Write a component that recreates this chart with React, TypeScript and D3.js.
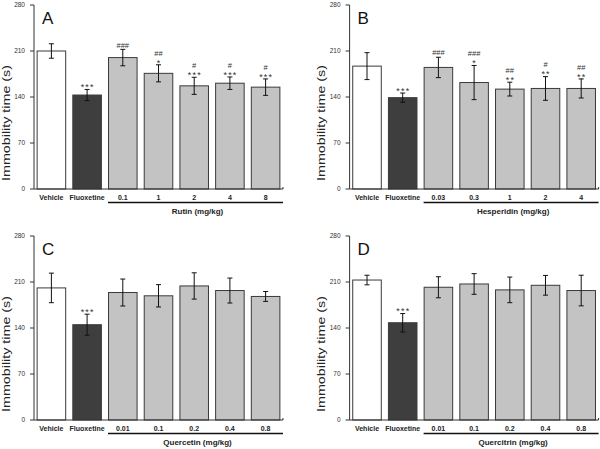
import React from "react";
import * as d3 from "d3";

const panelLetters = ["A", "B", "C", "D"];
const groupLabels = ["Rutin (mg/kg)", "Hesperidin (mg/kg)", "Quercetin (mg/kg)", "Quercitrin (mg/kg)"];

const categoriesA = ["Vehicle", "Fluoxetine", "0.1", "1", "2", "4", "8"];
const meansA = [210, 143, 200, 176, 157, 161, 155];
const semA = [11, 8.5, 12.5, 13, 13, 9.5, 12.5];
const starsA = ["", "***", "", "*", "***", "***", "***"];
const hashA = ["", "", "###", "##", "#", "#", "#"];

const categoriesB = ["Vehicle", "Fluoxetine", "0.03", "0.3", "1", "2", "4"];
const meansB = [187, 139, 185, 162, 152, 153, 153];
const semB = [20.5, 7, 15.5, 26, 10.5, 18, 14.5];
const starsB = ["", "***", "", "*", "**", "**", "**"];
const hashB = ["", "", "###", "###", "##", "#", "##"];

const categoriesC = ["Vehicle", "Fluoxetine", "0.01", "0.1", "0.2", "0.4", "0.8"];
const meansC = [201, 145, 194, 189, 204, 197, 188];
const semC = [22.5, 16, 20.5, 17, 20, 19, 7.5];
const starsC = ["", "***", "", "", "", "", ""];
const hashC = ["", "", "", "", "", "", ""];

const categoriesD = ["Vehicle", "Fluoxetine", "0.01", "0.1", "0.2", "0.4", "0.8"];
const meansD = [213, 148, 202, 207, 198, 205, 197];
const semD = [7.3, 14, 16, 15.7, 19.5, 15, 23.3];
const starsD = ["", "***", "", "", "", "", ""];
const hashD = ["", "", "", "", "", "", ""];

const yTicks = [0, 70, 140, 210, 280];
const yLabel = "Immobility time (s)";

const FONT = "'Liberation Sans', Arial, Helvetica, sans-serif";

type PanelProps = {
  ox: number;
  oy: number;
  letter: string;
  group: string;
  cats: string[];
  means: number[];
  sems: number[];
  stars: string[];
  hashes: string[];
};

function Panel({ ox, oy, letter, group, cats, means, sems, stars, hashes }: PanelProps) {
  const axX = 34;
  const axEnd = 283;
  const y = d3.scaleLinear().domain([0, 280]).range([189, 5]);
  const x = d3
    .scaleBand<string>()
    .domain(cats)
    .range([axX, axEnd])
    .paddingInner(0.2)
    .paddingOuter(0.0875);
  const bw = x.bandwidth();
  const fills = ["#ffffff", "#3e3e3e"];
  const underlineStart = (x(cats[2]) as number) - 0.5;
  return (
    <g transform={`translate(${ox},${oy})`}>
      <line x1={axX} x2={axX} y1={y(280)} y2={y(0)} stroke="#333" strokeWidth={1} />
      {yTicks.map((t) => (
        <g key={t}>
          <line x1={axX - 4} x2={axX} y1={y(t)} y2={y(t)} stroke="#333" strokeWidth={1} />
          <text
            x={25}
            y={y(t)}
            dy="0.35em"
            textAnchor="end"
            fontSize={6.5}
            fill="#333"
            fontFamily={FONT}
          >
            {t}
          </text>
        </g>
      ))}
      <text
        transform={`translate(9.5,${123}) rotate(-90)`}
        textAnchor="middle"
        fontSize={11.5}
        fill="#222"
        fontFamily={FONT}
        textLength={116}
        lengthAdjust="spacingAndGlyphs"
      >
        {yLabel}
      </text>
      {cats.map((c, i) => {
        const x0 = x(c) as number;
        const top = y(means[i]);
        const fill = i < 2 ? fills[i] : "#c3c3c3";
        return (
          <rect
            key={c}
            x={x0}
            y={top}
            width={bw}
            height={y(0) - top}
            fill={fill}
            stroke="#3a3a3a"
            strokeWidth={1}
          />
        );
      })}
      <line x1={axX} x2={axEnd} y1={y(0)} y2={y(0)} stroke="#333" strokeWidth={1} />
      <line x1={axEnd} x2={axEnd} y1={y(0)} y2={y(0) - 2} stroke="#333" strokeWidth={1} />
      {cats.map((c, i) => {
        const cx = (x(c) as number) + bw / 2;
        const hi = y(means[i] + sems[i]);
        const lo = y(means[i] - sems[i]);
        return (
          <g key={"e" + c} stroke="#111" strokeWidth={1}>
            <line x1={cx} x2={cx} y1={hi} y2={lo} />
            <line x1={cx - 2.5} x2={cx + 2.5} y1={hi} y2={hi} />
            <line x1={cx - 2.5} x2={cx + 2.5} y1={lo} y2={lo} />
          </g>
        );
      })}
      {cats.map((c, i) => {
        const cx = (x(c) as number) + bw / 2;
        const hi = y(means[i] + sems[i]);
        const lowerCenter = hi - 4.5;
        const items: React.ReactNode[] = [];
        let upperCenter = lowerCenter;
        if (stars[i]) {
          items.push(
            <text
              key="s"
              x={cx + 0.6}
              y={lowerCenter + 5.2}
              textAnchor="middle"
              fontSize={9}
              letterSpacing={1.2}
              fill="#333"
              fontFamily={FONT}
            >
              {stars[i]}
            </text>
          );
          upperCenter = lowerCenter - 7.5;
        }
        if (hashes[i]) {
          items.push(
            <text
              key="h"
              x={cx}
              y={upperCenter + 2.7}
              textAnchor="middle"
              fontSize={7.5}
              fill="#333"
              fontFamily={FONT}
            >
              {hashes[i]}
            </text>
          );
        }
        return <g key={"a" + c}>{items}</g>;
      })}
      {cats.map((c) => (
        <text
          key={"l" + c}
          x={(x(c) as number) + bw / 2}
          y={199.5}
          textAnchor="middle"
          fontSize={7}
          fontWeight="bold"
          fill="#222"
          fontFamily={FONT}
        >
          {c}
        </text>
      ))}
      <line x1={underlineStart} x2={axEnd} y1={202.5} y2={202.5} stroke="#111" strokeWidth={1.4} />
      <text
        x={(underlineStart + axEnd) / 2 + 2}
        y={213.5}
        textAnchor="middle"
        fontSize={8}
        fontWeight="bold"
        fill="#222"
        fontFamily={FONT}
      >
        {group}
      </text>
      <text x={axX + 8} y={24} fontSize={17} fill="#111" fontFamily={FONT}>
        {letter}
      </text>
    </g>
  );
}

export default function App() {
  const panels = [
    { ox: 0, oy: 0, cats: categoriesA, means: meansA, sems: semA, stars: starsA, hashes: hashA },
    { ox: 315.6, oy: 0, cats: categoriesB, means: meansB, sems: semB, stars: starsB, hashes: hashB },
    { ox: 0, oy: 231, cats: categoriesC, means: meansC, sems: semC, stars: starsC, hashes: hashC },
    { ox: 315.6, oy: 231, cats: categoriesD, means: meansD, sems: semD, stars: starsD, hashes: hashD },
  ];
  return (
    <svg
      width={600}
      height={449}
      viewBox="0 0 600 449"
      style={{ position: "fixed", top: 0, left: 0, background: "#fff" }}
    >
      <rect width={600} height={449} fill="#fff" />
      {panels.map((p, i) => (
        <Panel
          key={i}
          ox={p.ox}
          oy={p.oy}
          letter={panelLetters[i]}
          group={groupLabels[i]}
          cats={p.cats}
          means={p.means}
          sems={p.sems}
          stars={p.stars}
          hashes={p.hashes}
        />
      ))}
    </svg>
  );
}
